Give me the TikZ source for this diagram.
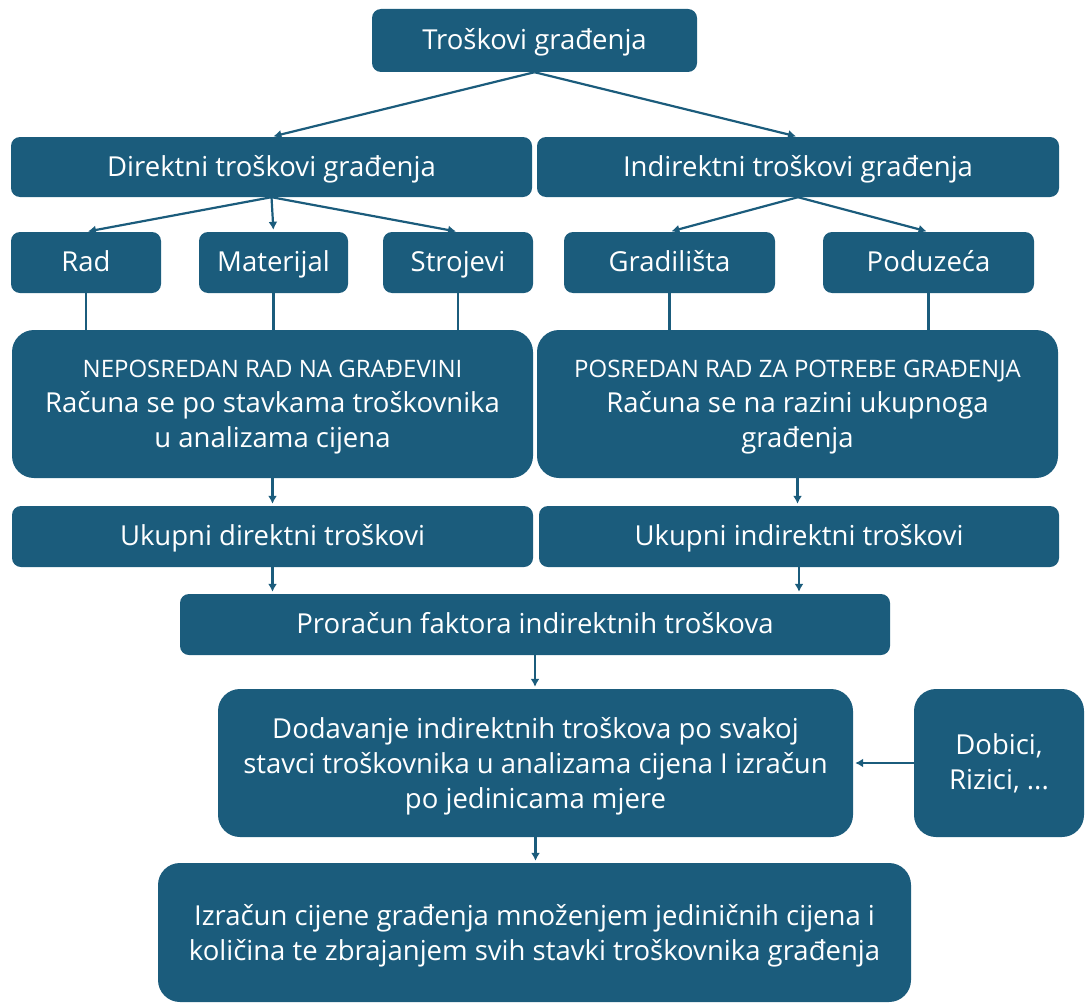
\documentclass[tikz,border=0pt]{standalone}
\usepackage{fontspec}
\setmainfont{Open Sans}
\usetikzlibrary{arrows.meta}
\definecolor{boxblue}{RGB}{27,92,124}
\begin{document}
\begin{tikzpicture}[x=1pt,y=-1pt,
  box/.style={draw=none, fill=boxblue, text=white, rounded corners=9pt, inner sep=0pt, align=center, font=\fontsize{27.5}{35}\selectfont},
  sl/.style={box, text height=22pt, text depth=4pt},
  bigbox/.style={box, rounded corners=22pt},
  arr/.style={draw=boxblue, line width=2.2pt, -{Latex[length=8pt,width=9pt]}, shorten >=2pt},
  ln/.style={draw=boxblue, line width=2.2pt}]
\useasboundingbox (0,0) rectangle (1086,1006);
\node[sl, minimum width=325pt, minimum height=63pt] (top) at (534.5,40.5) {Troškovi građenja};
\node[sl, minimum width=521pt, minimum height=60pt] (dir) at (271.5,167) {Direktni troškovi građenja};
\node[sl, minimum width=522pt, minimum height=60pt] (ind) at (798,167) {Indirektni troškovi građenja};
\node[sl, minimum width=150pt, minimum height=61pt] (rad) at (86,262.5) {Rad};
\node[sl, minimum width=149pt, minimum height=61pt] (mat) at (273.5,262.5) {Materijal};
\node[sl, minimum width=150pt, minimum height=61pt] (stro) at (458,262.5) {Strojevi};
\node[sl, minimum width=211pt, minimum height=61pt] (grad) at (669.5,262.5) {Gradilišta};
\node[sl, minimum width=211pt, minimum height=61pt] (pod) at (928.5,262.5) {Poduzeća};
\node[bigbox, minimum width=521pt, minimum height=148pt, text depth=1pt] (bigL) at (272.5,404) {{\fontsize{24}{35}\selectfont NEPOSREDAN RAD NA GRAĐEVINI}\\Računa se po stavkama troškovnika\\u analizama cijena};
\node[bigbox, minimum width=521pt, minimum height=148pt, text depth=1pt] (bigR) at (797.5,404) {{\fontsize{24}{35}\selectfont POSREDAN RAD ZA POTREBE GRAĐENJA}\\Računa se na razini ukupnoga\\građenja};
\node[sl, minimum width=521pt, minimum height=61pt] (ukD) at (272.5,536.5) {Ukupni direktni troškovi};
\node[sl, minimum width=520pt, minimum height=61pt] (ukI) at (799,536.5) {Ukupni indirektni troškovi};
\node[sl, minimum width=710pt, minimum height=61pt] (pro) at (535,624.5) {Proračun faktora indirektnih troškova};
\node[bigbox, minimum width=635pt, minimum height=148pt, text depth=-7pt] (dod) at (535.5,763) {Dodavanje indirektnih troškova po svakoj\\stavci troškovnika u analizama cijena I izračun\\po jedinicama mjere};
\node[bigbox, minimum width=170pt, minimum height=148pt] (dob) at (999,763) {Dobici,\\Rizici, ...};
\node[bigbox, minimum width=753pt, minimum height=139pt, text depth=-14pt] (izr) at (534.5,932.5) {Izračun cijene građenja množenjem jediničnih cijena i\\količina te zbrajanjem svih stavki troškovnika građenja};
\draw[arr] (top.south) -- (dir.north);
\draw[arr] (top.south) -- (ind.north);
\draw[arr] (dir.south) -- (rad.north);
\draw[arr] (dir.south) -- (mat.north);
\draw[arr] (dir.south) -- (stro.north);
\draw[arr] (ind.south) -- (grad.north);
\draw[arr] (ind.south) -- (pod.north);
\draw[ln] (rad.south) -- (rad.south |- bigL.north);
\draw[ln] (mat.south) -- (mat.south |- bigL.north);
\draw[ln] (stro.south) -- (stro.south |- bigL.north);
\draw[ln] (grad.south) -- (grad.south |- bigR.north);
\draw[ln] (pod.south) -- (pod.south |- bigR.north);
\draw[arr] (bigL.south) -- (ukD.north);
\draw[arr] (bigR.south) -- (bigR.south |- ukI.north);
\draw[arr] (ukD.south) -- (ukD.south |- pro.north);
\draw[arr] (ukI.south) -- (ukI.south |- pro.north);
\draw[arr] (pro.south) -- (pro.south |- dod.north);
\draw[arr] (dob.west) -- (dod.east);
\draw[arr] (dod.south) -- (dod.south |- izr.north);
\end{tikzpicture}
\end{document}
